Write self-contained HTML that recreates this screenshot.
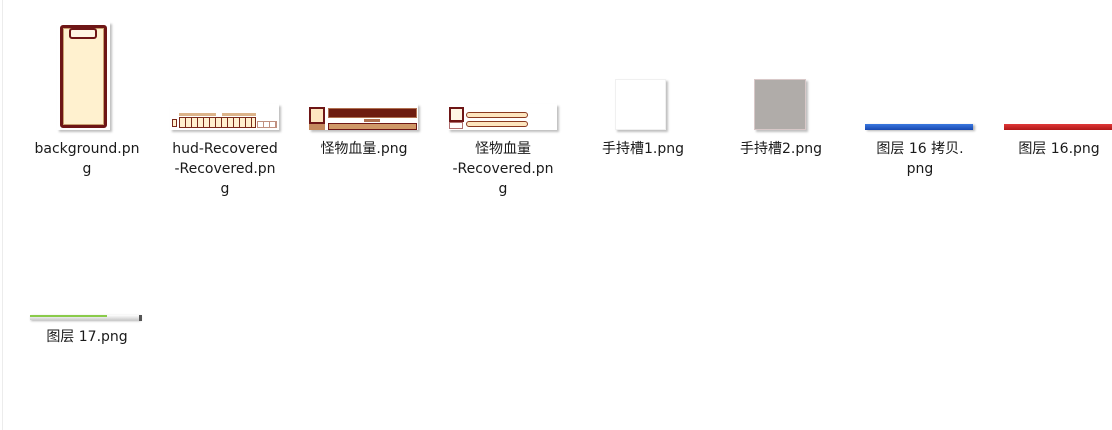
<!DOCTYPE html>
<html><head><meta charset="utf-8"><style>
html,body{margin:0;padding:0;background:#fff;width:1112px;height:430px;overflow:hidden;position:relative;font-family:"DejaVu Sans","Noto Sans CJK SC",sans-serif;}
.a{position:absolute;box-sizing:border-box}
.lbl{position:absolute;width:140px;text-align:center;font-size:14px;line-height:20px;color:#1a1a1a}
.sh{box-shadow:2px 2px 2px rgba(0,0,0,0.25)}
</style></head><body>
<div class="a" style="left:2px;top:0;width:1px;height:430px;background:#ececec"></div>

<div class="a sh" style="left:57px;top:22px;width:53px;height:108px;background:#fff"></div>
<div class="a" style="left:60px;top:25px;width:47px;height:103px;background:#fff1cf;border:3px solid #6e1616;border-radius:3px;box-shadow:inset 0 0 0 1px #c9a070"></div>
<div class="a" style="left:69px;top:28px;width:28px;height:11px;background:#fff6e4;border:2px solid #6e1616;border-radius:3px"></div>
<div class="lbl" style="left:17px;top:139px">background.pn<br>g</div>

<div class="a sh" style="left:170px;top:104px;width:109px;height:26px;background:#fff"></div>
<div class="a" style="left:179px;top:113px;width:37px;height:3px;background:#dcb48a"></div>
<div class="a" style="left:222px;top:113px;width:34px;height:3px;background:#dcb48a"></div>
<div class="a" style="left:179px;top:117px;width:77px;height:11px;background:#fff1cf;border:1px solid #7a2a1a;background-image:repeating-linear-gradient(90deg,#fff1cf 0 5px,#7a2a1a 5px 6px)"></div>
<div class="a" style="left:172px;top:119px;width:5px;height:8px;border:1px solid #7a2a1a;background:#fff1cf"></div>
<div class="a" style="left:257px;top:121px;width:20px;height:7px;border:1px solid #c09080;background-image:repeating-linear-gradient(90deg,#fff 0 5px,#c09080 5px 6px)"></div>
<div class="lbl" style="left:155px;top:139px">hud-Recovered<br>-Recovered.pn<br>g</div>

<div class="a sh" style="left:309px;top:104px;width:109px;height:26px;background:#fff"></div>
<div class="a" style="left:309px;top:107px;width:16px;height:17px;background:#fde6c0;border:2px solid #6e1616"></div>
<div class="a" style="left:309px;top:124px;width:16px;height:6px;background:#c58a5e"></div>
<div class="a" style="left:328px;top:108px;width:89px;height:10px;background:#6e1c10;border:1px solid #b07050"></div>
<div class="a" style="left:364px;top:119px;width:16px;height:3px;background:#b07050"></div>
<div class="a" style="left:328px;top:123px;width:89px;height:7px;background:#d09868;border:1px solid #6e1616"></div>
<div class="lbl" style="left:294px;top:139px">怪物血量.png</div>

<div class="a sh" style="left:448px;top:104px;width:109px;height:26px;background:#fff"></div>
<div class="a" style="left:449px;top:107px;width:15px;height:15px;background:#fff6e4;border:2px solid #6e1616"></div>
<div class="a" style="left:449px;top:122px;width:14px;height:7px;background:#fff;border:1px solid #b07070"></div>
<div class="a" style="left:466px;top:112px;width:62px;height:6px;background:#fde6c0;border:1px solid #8a3a20;border-radius:3px"></div>
<div class="a" style="left:466px;top:121px;width:62px;height:6px;background:#fde6c0;border:1px solid #8a3a20;border-radius:3px"></div>
<div class="lbl" style="left:433px;top:139px">怪物血量<br>-Recovered.pn<br>g</div>

<div class="a sh" style="left:615px;top:79px;width:51px;height:51px;background:#fff;border:1px solid #f0f0f0"></div>
<div class="lbl" style="left:573px;top:139px">手持槽1.png</div>

<div class="a sh" style="left:754px;top:79px;width:52px;height:51px;background:#b0aca9;border:1px solid #d8c8c8"></div>
<div class="lbl" style="left:711px;top:139px">手持槽2.png</div>

<div class="a" style="left:865px;top:124px;width:108px;height:6px;background:linear-gradient(#3a78e0,#1848b0);box-shadow:2px 1px 2px rgba(0,0,0,0.3)"></div>
<div class="lbl" style="left:850px;top:139px">图层 16 拷贝.<br>png</div>

<div class="a" style="left:1004px;top:124px;width:108px;height:6px;background:linear-gradient(#e03838,#b01818)"></div>
<div class="lbl" style="left:989px;top:139px">图层 16.png</div>

<div class="a" style="left:30px;top:315px;width:110px;height:5px;background:linear-gradient(#fff,#ccc);box-shadow:1px 1px 2px rgba(0,0,0,0.3)"></div>
<div class="a" style="left:30px;top:315px;width:77px;height:2px;background:#8acb4a"></div>
<div class="a" style="left:139px;top:315px;width:3px;height:6px;background:#555"></div>
<div class="lbl" style="left:17px;top:327px">图层 17.png</div>
</body></html>
